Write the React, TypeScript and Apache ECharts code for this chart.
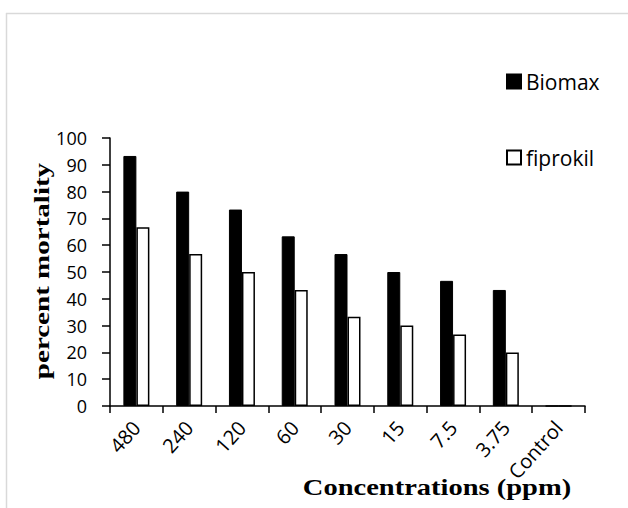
import React, { useEffect, useRef } from "react";
import * as echarts from "echarts";

const categories = ["480", "240", "120", "60", "30", "15", "7.5", "3.75", "Control"];
const biomax = [93.3, 80, 73.3, 63.3, 56.7, 50, 46.7, 43.3, 0];
const fiprokil = [66.7, 56.7, 50, 43.3, 33.3, 30, 26.7, 20, 0];
const seriesNames = ["Biomax", "fiprokil"];
const yTitle = "percent mortality";
const xTitle = "Concentrations (ppm)";

const labelFont = "'Open Sans', Lato, sans-serif";
const titleFont = "'Liberation Serif', 'DejaVu Serif', serif";

export default function App() {
  const ref = useRef<HTMLDivElement>(null);
  useEffect(() => {
    if (!ref.current) return;
    const chart = echarts.init(ref.current, undefined, { renderer: "svg" });
    chart.setOption({
      animation: false,
      backgroundColor: "#ffffff",
      grid: { left: 110, right: 43, top: 138, bottom: 102, containLabel: false },
      legend: {
        orient: "vertical",
        left: 501,
        top: 66,
        itemWidth: 14,
        itemHeight: 14,
        itemGap: 55,
        icon: "rect",
        textStyle: { fontFamily: labelFont, fontSize: 21, color: "#000" },
        data: seriesNames,
      },
      xAxis: {
        type: "category",
        data: categories,
        axisLine: { lineStyle: { color: "#000", width: 1.5 } },
        axisTick: { show: true, length: 7, lineStyle: { color: "#000", width: 1.5 } },
        axisLabel: {
          rotate: 48,
          fontFamily: labelFont,
          fontSize: 20,
          color: "#000",
          margin: 18,
          interval: 0,
        },
      },
      yAxis: {
        type: "value",
        min: 0,
        max: 100,
        interval: 10,
        splitLine: { show: false },
        axisLine: { show: true, lineStyle: { color: "#000", width: 1.5 } },
        axisTick: { show: true, length: 8, lineStyle: { color: "#000", width: 1.5 } },
        axisLabel: { fontFamily: labelFont, fontSize: 18, color: "#000", margin: 23 },
      },
      series: [
        {
          name: seriesNames[0],
          type: "bar",
          data: biomax,
          barWidth: 13,
          barGap: "0%",
          itemStyle: { color: "#000", borderColor: "#000", borderWidth: 1 },
        },
        {
          name: seriesNames[1],
          type: "bar",
          data: fiprokil,
          barWidth: 13,
          barGap: "0%",
          itemStyle: { color: "#fff", borderColor: "#000", borderWidth: 1.5 },
        },
      ],
      graphic: [
        { type: "line", shape: { x1: 6.5, y1: 13, x2: 6.5, y2: 508 }, style: { stroke: "#d9d9d9", lineWidth: 1.5 } },
        { type: "line", shape: { x1: 6, y1: 13.5, x2: 628, y2: 13.5 }, style: { stroke: "#d9d9d9", lineWidth: 1.5 } },
        {
          type: "text",
          x: 42,
          y: 271,
          rotation: Math.PI / 2,
          scaleX: 1.32,
          style: {
            text: yTitle,
            font: `bold 22px ${titleFont}`,
            fill: "#000",
            align: "center",
            verticalAlign: "middle",
          },
        },
        {
          type: "text",
          x: 437,
          y: 487,
          scaleX: 1.24,
          style: {
            text: xTitle,
            font: `bold 23px ${titleFont}`,
            fill: "#000",
            align: "center",
            verticalAlign: "middle",
          },
        },
      ],
    });
    return () => chart.dispose();
  }, []);
  return <div ref={ref} style={{ width: 628, height: 508, position: "absolute", left: 0, top: 0 }} />;
}
